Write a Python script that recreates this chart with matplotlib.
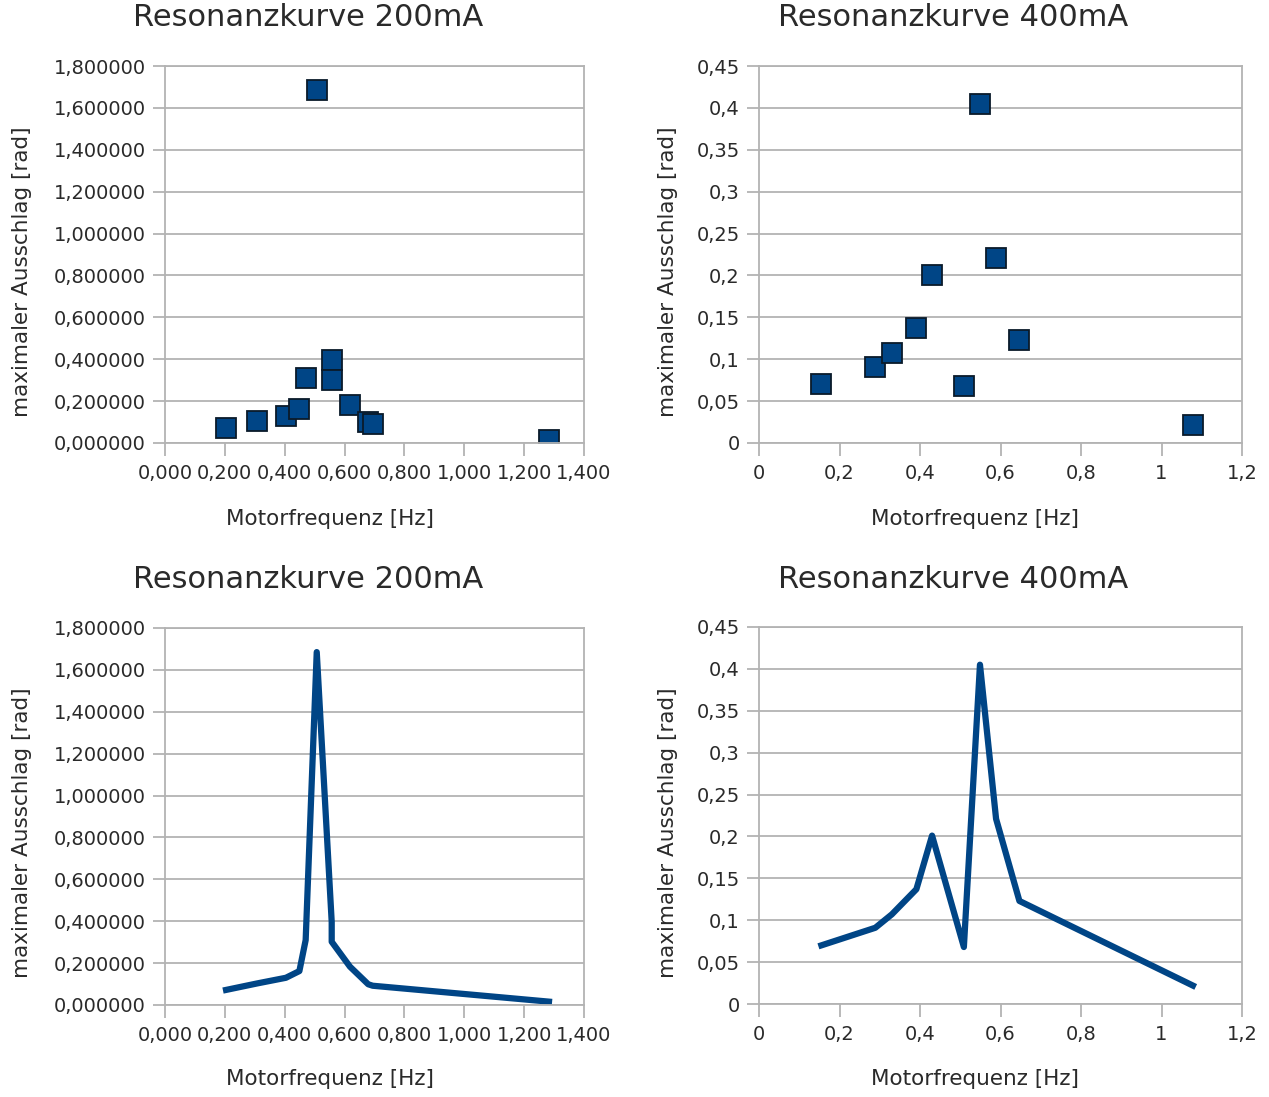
import numpy as np
import matplotlib
matplotlib.use('Agg')
import matplotlib.pyplot as plt
from matplotlib.ticker import FuncFormatter, MultipleLocator

plt.rcParams['font.family'] = ['DejaVu Sans']

# =======================================================
# Messwerte (aus den Diagrammen abgelesen)
# 200 mA
freq_200 = [0.204, 0.308, 0.404, 0.449, 0.470, 0.507, 0.557, 0.557, 0.618, 0.679, 0.694, 1.283]
amp_200 = [0.072, 0.103, 0.130, 0.162, 0.310, 1.685, 0.397, 0.302, 0.183, 0.099, 0.092, 0.016]
# 400 mA
freq_400 = [0.155, 0.289, 0.330, 0.391, 0.430, 0.509, 0.549, 0.589, 0.647, 1.078]
amp_400 = [0.070, 0.091, 0.107, 0.137, 0.201, 0.068, 0.405, 0.221, 0.123, 0.022]

title_200 = 'Resonanzkurve 200mA'
title_400 = 'Resonanzkurve 400mA'
xlabel = 'Motorfrequenz [Hz]'
ylabel = 'maximaler Ausschlag [rad]'

blue = '#004586'
grey = '#b3b3b3'
txt = '#2a2a2a'
W, H = 1269, 1097

fig = plt.figure(figsize=(W / 100, H / 100), dpi=100)


def rect(l, t, r, b):
    return [l / W, 1 - b / H, (r - l) / W, (b - t) / H]


def fmt_fixed(nd):
    return FuncFormatter(lambda v, p: f"{v:.{nd}f}".replace('.', ','))


fmt_gen = FuncFormatter(lambda v, p: f"{v:g}".replace('.', ','))


def style(ax, xmax, ymax, xstep, ystep, xfmt, yfmt):
    ax.set_xlim(0, xmax)
    ax.set_ylim(0, ymax)
    ax.xaxis.set_major_locator(MultipleLocator(xstep))
    ax.yaxis.set_major_locator(MultipleLocator(ystep))
    ax.xaxis.set_major_formatter(xfmt)
    ax.yaxis.set_major_formatter(yfmt)
    ax.grid(axis='y', color=grey, linewidth=1.3)
    ax.set_axisbelow(True)
    for s in ax.spines.values():
        s.set_color(grey)
        s.set_linewidth(1.3)
    ax.tick_params(colors=grey, labelcolor=txt, length=9, width=1.3,
                   labelsize=14, direction='out')
    ax.tick_params(axis='x', pad=6)
    ax.tick_params(axis='y', pad=5)


# ---- oben links: 200 mA Punkte
ax1 = fig.add_axes(rect(165, 66, 584, 443))
ax1.plot(freq_200, amp_200, 's', color=blue, markersize=14, markeredgecolor='#0a1a2a', markeredgewidth=1.3)
style(ax1, 1.4, 1.8, 0.2, 0.2, fmt_fixed(3), fmt_fixed(6))

# ---- oben rechts: 400 mA Punkte
ax2 = fig.add_axes(rect(759, 66, 1242, 443))
ax2.plot(freq_400, amp_400, 's', color=blue, markersize=14, markeredgecolor='#0a1a2a', markeredgewidth=1.3)
style(ax2, 1.2, 0.45, 0.2, 0.05, fmt_gen, fmt_gen)

# ---- unten links: 200 mA Linie
order = np.argsort(freq_200, kind='stable')
ax3 = fig.add_axes(rect(165, 628, 584, 1005))
ax3.plot(np.array(freq_200)[order], np.array(amp_200)[order], '-', color=blue, linewidth=4.5)
style(ax3, 1.4, 1.8, 0.2, 0.2, fmt_fixed(3), fmt_fixed(6))

# ---- unten rechts: 400 mA Linie
ax4 = fig.add_axes(rect(759, 627, 1242, 1004))
ax4.plot(freq_400, amp_400, '-', color=blue, linewidth=4.5)
style(ax4, 1.2, 0.45, 0.2, 0.05, fmt_gen, fmt_gen)

# Titel und Achsenbeschriftungen
for (cx, ty, t) in [(308, 18, title_200), (953, 18, title_400),
                    (308, 580, title_200), (953, 580, title_400)]:
    fig.text(cx / W, 1 - ty / H, t, ha='center', va='center', fontsize=22, color=txt)

for (xx, xy) in [(330, 519), (975, 519), (330, 1079), (975, 1079)]:
    fig.text(xx / W, 1 - xy / H, xlabel, ha='center', va='center', fontsize=15.5, color=txt)

for (yx, yy) in [(22, 272), (668, 272), (22, 833), (668, 833)]:
    fig.text(yx / W, 1 - yy / H, ylabel, ha='center', va='center', fontsize=15.5,
             rotation=90, color=txt)

fig.savefig('out.png', dpi=100)
